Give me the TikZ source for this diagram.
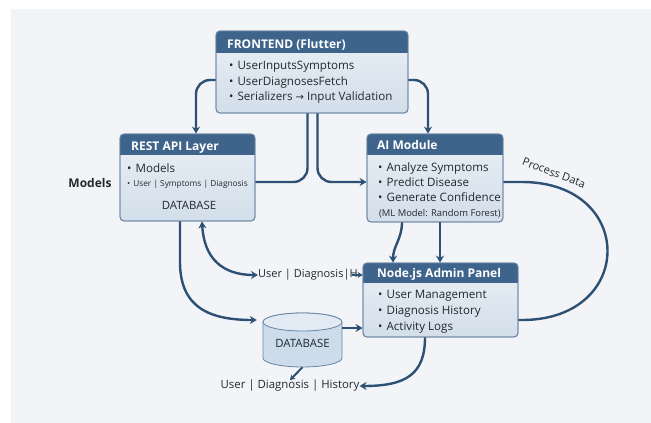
\documentclass[tikz,border=0pt]{standalone}
\usepackage{fontspec}
\setmainfont{Open Sans}
\newfontfamily\symfont{DejaVu Sans}
\usetikzlibrary{arrows.meta,fit,shapes.geometric}
\definecolor{bgcol}{HTML}{F3F4F7}
\definecolor{hdrcol}{HTML}{3F648B}
\definecolor{bodytop}{HTML}{EAF0F6}
\definecolor{bodybot}{HTML}{D2DEEA}
\definecolor{bordcol}{HTML}{6A86A3}
\definecolor{arrcol}{HTML}{2D5075}
\definecolor{txtcol}{HTML}{23282E}
\definecolor{dbside}{HTML}{CCDCEB}
\definecolor{dbtop}{HTML}{E2EBF4}
\tikzset{
  boxbody/.style={inner sep=0pt, rounded corners=4pt, top color=bodytop, bottom color=bodybot, draw=bordcol, line width=0.8pt},
  boxline/.style={draw=bordcol, line width=0.8pt, rounded corners=4pt},
  hdrtext/.style={inner sep=0pt, anchor=base west, text=white, font=\fontsize{12}{14}\selectfont\bfseries},
  itemtext/.style={inner sep=0pt, anchor=base west, text=txtcol, font=\fontsize{11.6}{13}\selectfont},
  smalltext/.style={inner sep=0pt, anchor=base west, text=txtcol, font=\fontsize{8.3}{10}\selectfont},
  mltext/.style={inner sep=0pt, anchor=base west, text=txtcol, font=\fontsize{9.4}{11}\selectfont},
  freetext/.style={inner sep=0pt, text=txtcol, font=\fontsize{11.4}{13}\selectfont},
  conn/.style={draw=arrcol, line width=2.4pt},
  arr/.style={conn, -{Stealth[length=7pt,width=8pt]}},
  darr/.style={conn, {Stealth[length=7pt,width=8pt]}-{Stealth[length=7pt,width=8pt]}},
}
\newcommand\mkbox[6]{%
  \node[boxbody, fit={(#2,#3)(#4,#5)}] (#1) {};
  \begin{scope}
    \clip[rounded corners=4pt] (#2,#3) rectangle (#4,#5);
    \fill[hdrcol] (#2,#3) rectangle (#4,#6);
  \end{scope}
  \draw[boxline] (#2,#3) rectangle (#4,#5);
}
\begin{document}
\begin{tikzpicture}[x=1pt,y=-1pt]
\useasboundingbox (0,0) rectangle (651,423);
\fill[white] (0,0) rectangle (651,423);
\fill[bgcol] (11,9) rectangle (651,423);

% boxes
\mkbox{fe}{216}{31}{408}{113}{53}
\mkbox{rest}{120}{134}{255}{221}{155}
\mkbox{ai}{367}{134}{503}{222}{155}
\mkbox{adm}{363}{263}{518}{337}{283}

% frontend text
\node[hdrtext] (feh) at (227,48.5) {FRONTEND (Flutter)};
\node[itemtext] (fe1) at (229,69) {\textbullet\hspace{4pt}UserInputsSymptoms};
\node[itemtext] (fe2) at (229,85) {\textbullet\hspace{4pt}UserDiagnosesFetch};
\node[itemtext] (fe3) at (229,100.5) {\textbullet\hspace{4pt}Serializers {\symfont\fontsize{10}{12}\selectfont →} Input Validation};

% rest text
\node[hdrtext] (resth) at (131,150.5) {REST API Layer};
\node[itemtext] (rest1) at (127,172) {\textbullet\hspace{4pt}Models};
\node[smalltext] (rest2) at (127,186) {\textbullet\hspace{3pt}User | Symptoms | Diagnosis};
\node[freetext, anchor=base] (rest3) at (189,209) {DATABASE};

% ai text
\node[hdrtext] (aih) at (377,149.5) {AI Module};
\node[itemtext] (ai1) at (378,171.5) {\textbullet\hspace{4pt}Analyze Symptoms};
\node[itemtext] (ai2) at (378,186.5) {\textbullet\hspace{4pt}Predict Disease};
\node[itemtext] (ai3) at (378,201.5) {\textbullet\hspace{4pt}Generate Confidence};
\node[mltext] (ai4) at (379,216) {(ML Model: Random Forest)};

% admin text
\node[hdrtext] (admh) at (377,277.5) {Node.js Admin Panel};
\node[itemtext] (adm1) at (378,298) {\textbullet\hspace{4pt}User Management};
\node[itemtext] (adm2) at (378,314) {\textbullet\hspace{4pt}Diagnosis History};
\node[itemtext] (adm3) at (378,330) {\textbullet\hspace{4pt}Activity Logs};

% database cylinder
\node[fit={(263,313)(342,367)}, inner sep=0pt] (db) {};
\path[fill=dbside, draw=bordcol, line width=0.8pt] (263,322) -- (263,358)
  arc[start angle=180, end angle=360, x radius=39.5pt, y radius=9pt]
  -- (342,322) arc[start angle=0, end angle=180, x radius=39.5pt, y radius=9pt] -- cycle;
\draw[fill=dbtop, draw=bordcol, line width=0.8pt] (302.5,322) ellipse[x radius=39.5pt, y radius=9pt];
\node[freetext, anchor=base] (dbt) at (302.5,347.5) {DATABASE};

% free labels
\node[freetext, font=\fontsize{12}{14}\selectfont\bfseries] (models) at (90,183) {Models};
\node[freetext, font=\fontsize{11}{13}\selectfont, anchor=west] (ud) at (258,275) {User | Diagnosis|H};
\node[freetext] (uh) at (290,386) {User | Diagnosis | History};
\node[inner sep=0pt, text=txtcol, font=\fontsize{11}{13}\selectfont, rotate=-21] (pd) at (554,173) {Process Data};

% connectors
\draw[arr, rounded corners=14pt] ([yshift=-8pt]fe.west) -| ([xshift=8.5pt]rest.north);
\draw[arr, rounded corners=14pt] ([yshift=-8pt]fe.east) -| ([xshift=-7pt]ai.north);
\draw[conn, rounded corners=14pt] ([xshift=-4.5pt]fe.south) |- (rest.east |- 0,182);
\draw[arr, rounded corners=14pt] ([xshift=5.5pt]fe.south) |- (ai.west |- 0,182);
\draw[arr] ([xshift=-33pt]ai.south) to[out=-90, in=90] ([xshift=-47.5pt]adm.north);
\draw[arr] ([xshift=5pt]ai.south) -- ([xshift=5pt]ai.south |- adm.north);
\draw[conn] (ai.east |- 0,182) -- (522,182) .. controls (636,182) and (636,320) .. (522,320) -- (adm.east |- 0,320);
\draw[arr] ([xshift=-7.5pt]rest.south) -- (180,262) .. controls (180,308) and (210,320) .. ([xshift=-6pt]db.west |- 0,320);
\draw[darr] ([xshift=14.5pt]rest.south) .. controls (204,258) and (222,275) .. (ud.west);
\draw[conn, -{Stealth[length=5pt,width=6pt]}, line width=1.6pt] ([xshift=-6pt]ud.east) -- (adm.west |- ud);
\draw[arr] (db.east |- 0,328) -- (adm.west |- 0,328);
\draw[conn, -{Stealth[length=5pt,width=6pt]}, line width=2pt] (db.south) -- (uh.north);
\draw[arr] ([xshift=-15.5pt]adm.south) .. controls (425,375) and (405,386) .. (uh.east);
\end{tikzpicture}
\end{document}
